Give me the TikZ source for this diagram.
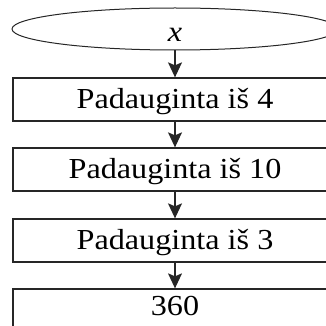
\documentclass[tikz,border=0pt]{standalone}
\usepackage{fontspec}
\setmainfont{Liberation Serif}[FakeStretch=1.11]
\usetikzlibrary{shapes.geometric,arrows.meta}
\begin{document}
\begin{tikzpicture}[x=1pt,y=-1pt,
  every node/.style={draw=black!85, line width=1.3pt, inner sep=0pt,
    text height=20pt, text depth=3pt,
    font=\fontsize{29}{33}\selectfont},
  startshape/.style={ellipse, line width=1pt, minimum width=326pt, minimum height=42pt,
    text height=26pt, text depth=0pt},
  opbox/.style={rectangle, minimum width=324pt, minimum height=43pt},
  flow/.style={draw=black!85, line width=1.3pt,
    -{Stealth[length=15pt,width=14pt,inset=3pt]}}]
\useasboundingbox (0,0) rectangle (326,326);
\node[startshape] (in) at (175,29) {\textit{x}};
\node[opbox] (m4) at (175,99.5) {Padauginta iš 4};
\node[opbox] (m10) at (175,169.5) {Padauginta iš 10};
\node[opbox] (m3) at (175,240.5) {Padauginta iš 3};
\node[opbox, text height=12pt, text depth=3pt] (res) at (175,310.5) {360};
\draw[flow] (in.south) -- (m4.north);
\draw[flow] (m4.south) -- (m10.north);
\draw[flow] (m10.south) -- (m3.north);
\draw[flow] (m3.south) -- (res.north);
\end{tikzpicture}
\end{document}
